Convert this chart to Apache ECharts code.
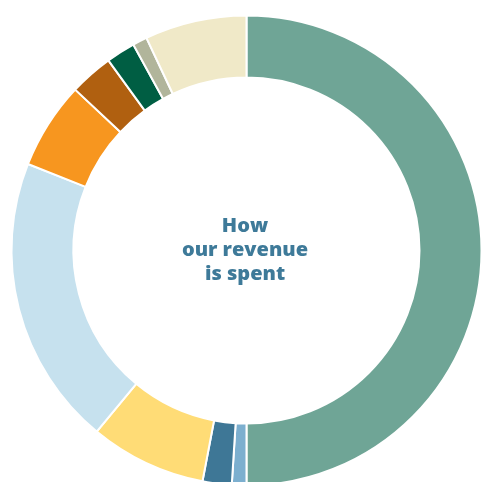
<!DOCTYPE html>
<html>
<head>
<meta charset="utf-8">
<script src="https://cdn.jsdelivr.net/npm/echarts@6/dist/echarts.min.js"></script>
<style>
  html, body { margin: 0; padding: 0; background: #ffffff; }
  #chart { width: 482px; height: 482px; }
</style>
</head>
<body>
<div id="chart"></div>
<script>
// Share of revenue by spending category (percent), clockwise from 12 o'clock
const categories = [
  'Category A', 'Category B', 'Category C', 'Category D', 'Category E',
  'Category F', 'Category G', 'Category H', 'Category I', 'Category J'
];
const shares = [50, 1, 2, 8, 20, 6, 3, 2, 1, 7];
const sliceColors = [
  '#6fa596', '#7cafcf', '#3e7796', '#ffdc76', '#c6e1ee',
  '#f7961f', '#b06010', '#005e43', '#b1b59b', '#f0e9c8'
];
const centerLines = ['How', 'our revenue', 'is spent'];

const chart = echarts.init(document.getElementById('chart'), null, { renderer: 'canvas' });

chart.setOption({
  animation: false,
  backgroundColor: '#ffffff',
  series: [{
    type: 'pie',
    center: [246.5, 250.5],
    radius: [173, 235],
    startAngle: 90,
    clockwise: true,
    silent: true,
    label: { show: false },
    labelLine: { show: false },
    itemStyle: { borderColor: '#ffffff', borderWidth: 2 },
    data: categories.map((name, i) => ({
      name: name,
      value: shares[i],
      itemStyle: { color: sliceColors[i] }
    }))
  }],
  graphic: [{
    type: 'text',
    x: 245,
    y: 250,
    style: {
      text: centerLines.join('\n'),
      fill: '#3e7a99',
      font: '800 20px "Open Sans", sans-serif',
      lineHeight: 24,
      align: 'center',
      verticalAlign: 'middle'
    }
  }]
});
</script>
</body>
</html>
